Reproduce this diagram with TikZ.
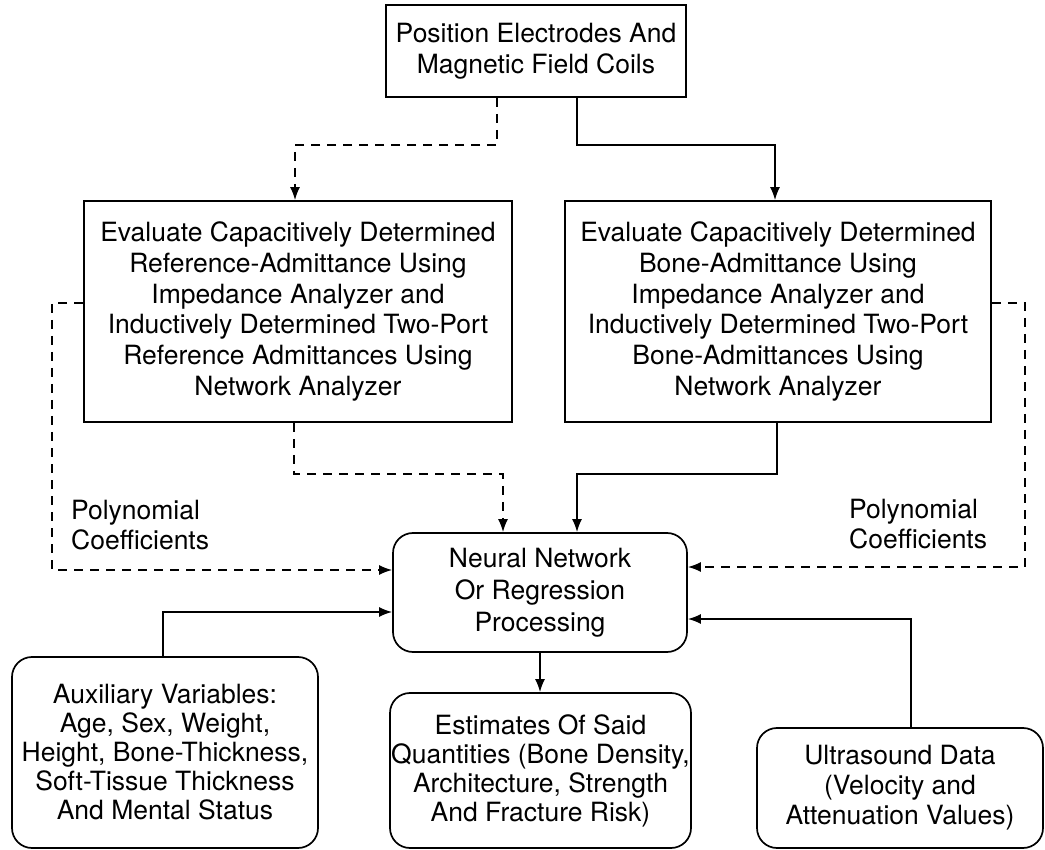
\documentclass[tikz,border=0pt]{standalone}
\usepackage{fontspec}
\setmainfont{TeX Gyre Heros}
\usetikzlibrary{arrows.meta}
\begin{document}
\begin{tikzpicture}[x=1pt,y=-1pt,
  lw/.style={line width=1.7pt},
  box/.style={lw,draw,inner sep=0pt,align=center,font=\fontsize{26.5}{30.5}\selectfont},
  rbox/.style={box,rounded corners=20pt},
  conn/.style={lw},
  dsh/.style={lw,dash pattern=on 9pt off 7pt},
  arr/.style={-{Latex[length=13pt,width=10pt]}},
  lbl/.style={inner sep=0pt,align=left,font=\fontsize{26.5}{30.5}\selectfont}]
\useasboundingbox (0,0) rectangle (1045,850);
\fill[white] (0,0) rectangle (1045,850);

\node[box,minimum width=300pt,minimum height=92pt] (top) at (536,51)
  {Position Electrodes And\\Magnetic Field Coils};
\node[box,minimum width=428pt,minimum height=221pt,font=\fontsize{26.5}{30.8}\selectfont] (left) at (298,311.5)
  {Evaluate Capacitively Determined\\Reference-Admittance Using\\Impedance Analyzer and\\Inductively Determined Two-Port\\Reference Admittances Using\\Network Analyzer};
\node[box,minimum width=426pt,minimum height=221pt,font=\fontsize{26.5}{30.8}\selectfont] (right) at (778,311.5)
  {Evaluate Capacitively Determined\\Bone-Admittance Using\\Impedance Analyzer and\\Inductively Determined Two-Port\\Bone-Admittances Using\\Network Analyzer};
\node[rbox,minimum width=294pt,minimum height=119pt,font=\fontsize{26.5}{32}\selectfont] (nn) at (540,592.5)
  {Neural Network\\Or Regression\\Processing};
\node[rbox,minimum width=306pt,minimum height=191pt,font=\fontsize{26.5}{29}\selectfont] (aux) at (165,752.5)
  {Auxiliary Variables:\\Age, Sex, Weight,\\Height, Bone-Thickness,\\Soft-Tissue Thickness\\And Mental Status};
\node[rbox,minimum width=301pt,minimum height=155pt,font=\fontsize{26.5}{29}\selectfont] (est) at (540.5,770.5)
  {Estimates Of Said\\Quantities (Bone Density,\\Architecture, Strength\\And Fracture Risk)};
\node[rbox,minimum width=286pt,minimum height=120pt,font=\fontsize{26.5}{30}\selectfont] (ultra) at (900,788)
  {Ultrasound Data\\(Velocity and\\Attenuation Values)};

\node[lbl,anchor=west] (polyL) at (71,525) {Polynomial\\Coefficients};
\node[lbl,anchor=west] (polyR) at (849,524) {Polynomial\\Coefficients};

% top to middle boxes
\draw[dsh,arr] ([xshift=-39pt]top.south) -- ++(0,47) -| ([xshift=-3pt]left.north);
\draw[conn,arr] ([xshift=41pt]top.south) -- ++(0,47) -| ([xshift=-3pt]right.north);
% middle boxes to nn
\draw[dsh,arr] ([xshift=-4pt]left.south) -- ++(0,51) -| ([xshift=-37pt]nn.north);
\draw[conn,arr] ([xshift=-1pt]right.south) -- ++(0,51) -| ([xshift=37pt]nn.north);
% polynomial coefficient loops
\draw[dsh,arr] ([yshift=8.5pt]left.west) -- ++(-31,0) |- ([yshift=22.5pt]nn.west);
\draw[dsh,arr] ([yshift=8.5pt]right.east) -- ++(33,0) |- ([yshift=25.5pt]nn.east);
% bottom inputs
\draw[conn,arr] ([xshift=-2pt]aux.north) |- ([yshift=-19.5pt]nn.west);
\draw[conn,arr] ([xshift=11pt]ultra.north) |- ([yshift=-26.5pt]nn.east);
% output
\draw[conn,arr] (nn.south) -- (nn.south |- est.north);
\end{tikzpicture}
\end{document}
